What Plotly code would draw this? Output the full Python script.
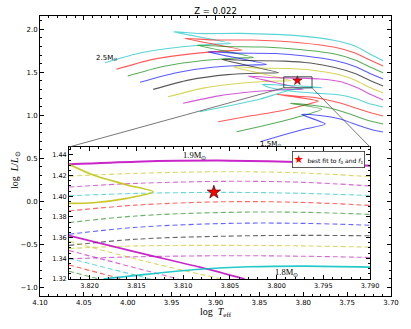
import plotly.graph_objects as go

# ---------------- main panel: evolutionary tracks, Z = 0.022 ----------------
masses = [2.5, 2.4, 2.3, 2.2, 2.1, 2.0, 1.9, 1.8, 1.7, 1.6, 1.5]
track_cols = ['c', 'r', 'g', 'b', 'k', 'y', 'm', 'c', 'r', 'g', 'b']

m25_x = [4.026, 3.986, 3.940, 3.901, 3.883, 3.948, 3.918, 3.872, 3.804, 3.764, 3.741, 3.724, 3.709]
m25_y = [1.612, 1.724, 1.794, 1.829, 1.837, 1.972, 1.951, 1.953, 1.924, 1.870, 1.806, 1.713, 1.635]
m24_x = [4.013, 3.974, 3.928, 3.888, 3.870, 3.935, 3.904, 3.858, 3.804, 3.764, 3.741, 3.724, 3.709]
m24_y = [1.535, 1.645, 1.715, 1.750, 1.759, 1.895, 1.876, 1.876, 1.844, 1.791, 1.724, 1.643, 1.573]
m23_x = [4.000, 3.960, 3.914, 3.874, 3.857, 3.921, 3.890, 3.845, 3.804, 3.764, 3.741, 3.724, 3.709]
m23_y = [1.457, 1.567, 1.637, 1.666, 1.674, 1.817, 1.800, 1.794, 1.765, 1.713, 1.643, 1.562, 1.495]
m22_x = [3.986, 3.946, 3.901, 3.861, 3.842, 3.909, 3.878, 3.832, 3.798, 3.764, 3.741, 3.724, 3.709]
m22_y = [1.384, 1.492, 1.562, 1.585, 1.593, 1.740, 1.724, 1.719, 1.690, 1.637, 1.567, 1.486, 1.422]
m21_x = [3.971, 3.931, 3.886, 3.846, 3.828, 3.893, 3.863, 3.821, 3.792, 3.764, 3.741, 3.724, 3.709]
m21_y = [1.302, 1.410, 1.474, 1.492, 1.495, 1.651, 1.637, 1.631, 1.608, 1.556, 1.486, 1.405, 1.341]
m20_x = [3.954, 3.914, 3.869, 3.831, 3.8135, 3.880, 3.852, 3.815, 3.787, 3.760, 3.740, 3.724, 3.709]
m20_y = [1.216, 1.317, 1.376, 1.399, 1.403, 1.565, 1.550, 1.544, 1.521, 1.474, 1.405, 1.323, 1.259]
m19_x = [3.937, 3.898, 3.855, 3.817, 3.800, 3.863, 3.838, 3.807, 3.781, 3.758, 3.739, 3.723, 3.709]
m19_y = [1.140, 1.224, 1.277, 1.300, 1.303, 1.457, 1.440, 1.433, 1.423, 1.393, 1.323, 1.242, 1.178]
m18_x = [3.918, 3.883, 3.849, 3.823, 3.809, 3.790, 3.779, 3.804, 3.827, 3.847,
         3.836, 3.815, 3.787, 3.758, 3.739, 3.723, 3.709]
m18_y = [1.042, 1.114, 1.190, 1.271, 1.306, 1.323, 1.323, 1.341, 1.352, 1.360,
         1.317, 1.283, 1.259, 1.236, 1.190, 1.131, 1.097]
m17_x = [3.897, 3.861, 3.823, 3.798, 3.783, 3.830, 3.809, 3.787, 3.758, 3.735, 3.718, 3.709]
m17_y = [0.926, 0.992, 1.056, 1.120, 1.166, 1.244, 1.224, 1.207, 1.143, 1.067, 1.015, 0.992]
m16_x = [3.876, 3.849, 3.823, 3.798, 3.779, 3.815, 3.792, 3.770, 3.747, 3.726, 3.709]
m16_y = [0.809, 0.870, 0.934, 1.003, 1.073, 1.140, 1.120, 1.085, 1.015, 0.940, 0.899]
m15_x = [3.849, 3.823, 3.798, 3.775, 3.802, 3.781, 3.758, 3.735, 3.718, 3.709]
m15_y = [0.693, 0.771, 0.841, 0.899, 1.012, 0.998, 0.957, 0.876, 0.823, 0.806]

tracks_x = [m25_x, m24_x, m23_x, m22_x, m21_x, m20_x, m19_x, m18_x, m17_x, m16_x, m15_x]
tracks_y = [m25_y, m24_y, m23_y, m22_y, m21_y, m20_y, m19_y, m18_y, m17_y, m16_y, m15_y]

# best-fit model (f0 and f1)
best_x = [3.8067]
best_y = [1.4039]

# ---------------- inset: zoom around the best fit ----------------
# solid tracks
in_m19_top_x = [3.8222, 3.815, 3.805, 3.797, 3.790]
in_m19_top_y = [1.431, 1.4335, 1.4345, 1.433, 1.4295]
in_m20_hook_x = [3.8222, 3.8196, 3.8160, 3.8132, 3.8160, 3.8196, 3.8222]
in_m20_hook_y = [1.431, 1.4206, 1.411, 1.4043, 1.398, 1.3938, 1.3932]
in_m19_leg_x = [3.8222, 3.8150, 3.8082, 3.8034]
in_m19_leg_y = [1.362, 1.346, 1.3315, 1.320]
in_m18_x = [3.8185, 3.8140, 3.8082, 3.8030, 3.7970, 3.7900]
in_m18_y = [1.320, 1.3245, 1.3294, 1.3318, 1.3325, 1.3315]

# dashed (finer mass grid)
dash_x = [3.8222, 3.815, 3.805, 3.797, 3.790]
dash_cols = ['y', 'm', 'c', 'r', 'g', 'b', 'k', 'y', 'm']
dash_y = [
    [1.4195, 1.4222, 1.4238, 1.4225, 1.4190],
    [1.4090, 1.4125, 1.4145, 1.4135, 1.4100],
    [1.4005, 1.4028, 1.4038, 1.4028, 1.4008],
    [1.3858, 1.3915, 1.3948, 1.3940, 1.3912],
    [1.3745, 1.3810, 1.3845, 1.3845, 1.3825],
    [1.3633, 1.3700, 1.3738, 1.3738, 1.3720],
    [1.3525, 1.3585, 1.3615, 1.3622, 1.3618],
    [1.3495, 1.3520, 1.3525, 1.3520, 1.3508],
    [1.3395, 1.3415, 1.3425, 1.3420, 1.3408],
]
# dashed hook legs running off the bottom edge
leg_cols = ['y', 'm', 'c', 'r', 'g']
leg_x = [[3.8222, 3.8146, 3.8059], [3.8222, 3.8105], [3.8222, 3.8135], [3.8222, 3.8165], [3.8222, 3.8190]]
leg_y = [[1.3565, 1.3383, 1.320], [1.3475, 1.320], [1.3400, 1.320], [1.3335, 1.320], [1.3275, 1.320]]

# axis ranges
main_xr = [4.10, 3.70]
main_yr = [-1.10, 2.155]
ins_xr = [3.8222, 3.790]
ins_yr = [1.320, 1.4477]
main_dx = [40 / 411, 391 / 411]
main_dy = [33 / 329, 313 / 329]
ins_dx = [69 / 411, 370 / 411]
ins_dy = [50 / 329, 182 / 329]

RGB = {'c': (0, 191, 191), 'r': (255, 0, 0), 'g': (0, 128, 0), 'b': (0, 0, 255),
       'k': (0, 0, 0), 'y': (191, 191, 0), 'm': (191, 0, 191)}


def col(c, a):
    r, g, b = RGB[c]
    return f'rgba({r},{g},{b},{a})'


fig = go.Figure()

for tx, ty, c, m in zip(tracks_x, tracks_y, track_cols, masses):
    fig.add_trace(go.Scatter(x=tx, y=ty, mode='lines', name=f'{m}',
                             line=dict(color=col(c, 0.65), width=1.1, shape='spline', smoothing=0.6),
                             xaxis='x', yaxis='y', showlegend=False, hoverinfo='skip'))

fig.add_trace(go.Scatter(x=best_x, y=best_y, mode='markers', showlegend=False,
                         marker=dict(symbol='star', size=7, color='red', line=dict(color='#400', width=0.5)),
                         xaxis='x', yaxis='y'))

# inset traces
for ys, c in zip(dash_y, dash_cols):
    fig.add_trace(go.Scatter(x=dash_x, y=ys, mode='lines', showlegend=False,
                             line=dict(color=col(c, 0.6), width=1.1, dash='5px,3px', shape='spline'),
                             xaxis='x2', yaxis='y2'))
for xs, ys, c in zip(leg_x, leg_y, leg_cols):
    fig.add_trace(go.Scatter(x=xs, y=ys, mode='lines', showlegend=False,
                             line=dict(color=col(c, 0.6), width=1.1, dash='5px,3px', shape='spline'),
                             xaxis='x2', yaxis='y2'))

solid = [(in_m19_top_x, in_m19_top_y, 'm', 2.0), (in_m20_hook_x, in_m20_hook_y, 'y', 1.6),
         (in_m19_leg_x, in_m19_leg_y, 'm', 1.6), (in_m18_x, in_m18_y, 'c', 1.6)]
for xs, ys, c, w in solid:
    fig.add_trace(go.Scatter(x=xs, y=ys, mode='lines', showlegend=False,
                             line=dict(color=col(c, 0.85), width=w, shape='spline', smoothing=0.8),
                             xaxis='x2', yaxis='y2'))

fig.add_trace(go.Scatter(x=best_x, y=best_y, mode='markers', showlegend=False,
                         marker=dict(symbol='star', size=10, color='red', line=dict(color='#400', width=0.7)),
                         xaxis='x2', yaxis='y2'))

tickfont = dict(family='DejaVu Sans', size=7, color='black')
axis_common = dict(showline=True, linecolor='black', linewidth=1, mirror='ticks', ticks='inside',
                   ticklen=4, tickcolor='black', showgrid=False, zeroline=False, automargin=False)

fig.update_layout(
    template='none',
    width=411, height=329, autosize=False,
    margin=dict(l=0, r=0, t=0, b=0, autoexpand=False),
    paper_bgcolor='white', plot_bgcolor='white',
    xaxis=dict(domain=main_dx, range=main_xr, dtick=0.05, tickformat='.2f', tickfont=tickfont,
               minor=dict(ticks='inside', ticklen=2, dtick=0.01, tickcolor='black'), **axis_common),
    yaxis=dict(domain=main_dy, range=main_yr, dtick=0.5, tickformat='.1f', tickfont=tickfont,
               minor=dict(ticks='inside', ticklen=2, dtick=0.1, tickcolor='black'), **axis_common),
    xaxis2=dict(domain=ins_dx, range=ins_xr, anchor='y2', dtick=0.005, tick0=3.79, tickformat='.3f',
                tickfont=dict(family='DejaVu Sans', size=6.5, color='black'),
                minor=dict(ticks='inside', ticklen=2, dtick=0.001, tickcolor='black'), **axis_common),
    yaxis2=dict(domain=ins_dy, range=ins_yr, anchor='x2', dtick=0.02, tickformat='.2f',
                tickfont=dict(family='DejaVu Sans', size=6.5, color='black'),
                minor=dict(ticks='inside', ticklen=2, dtick=0.005, tickcolor='black'), **axis_common),
    title=dict(text='Z = 0.022', x=215.5 / 411, xanchor='center', y=318 / 329, yanchor='middle',
               font=dict(family='DejaVu Sans', size=8.5, color='black')),
)


def ins_to_main(px, py):
    # paper position of an inset corner -> main data coordinates
    fx = (px - main_dx[0]) / (main_dx[1] - main_dx[0])
    fy = (py - main_dy[0]) / (main_dy[1] - main_dy[0])
    return main_xr[0] + fx * (main_xr[1] - main_xr[0]), main_yr[0] + fy * (main_yr[1] - main_yr[0])


# zoom box and connector lines
fig.add_shape(type='rect', xref='x', yref='y', x0=ins_xr[0], x1=ins_xr[1], y0=ins_yr[0], y1=ins_yr[1],
              line=dict(color='#444', width=1))
cl = ins_to_main(ins_dx[0], ins_dy[1])
cr = ins_to_main(ins_dx[1], ins_dy[1])
fig.add_shape(type='line', xref='x', yref='y', x0=ins_xr[0], y0=ins_yr[0], x1=cl[0], y1=cl[1],
              line=dict(color='#555', width=0.8))
fig.add_shape(type='line', xref='x', yref='y', x0=ins_xr[1], y0=ins_yr[0], x1=cr[0], y1=cr[1],
              line=dict(color='#555', width=0.8))

sans7 = dict(family='DejaVu Sans', size=7, color='black')
serif = dict(family='Liberation Serif', size=8.5, color='black')
fig.add_annotation(x=4.024, y=1.663, xref='x', yref='y', text='2.5M<sub>⊙</sub>', showarrow=False, font=sans7)
fig.add_annotation(x=3.837, y=0.672, xref='x', yref='y', text='1.5M<sub>⊙</sub>', showarrow=False, font=sans7)
fig.add_annotation(x=3.8088, y=1.4395, xref='x2', yref='y2', text='1.9M<sub>⊙</sub>', showarrow=False, font=serif)
fig.add_annotation(x=3.7989, y=1.3267, xref='x2', yref='y2', text='1.8M<sub>⊙</sub>', showarrow=False, font=serif)

# legend box
fig.add_annotation(x=292 / 411, y=178 / 329, xref='paper', yref='paper', xanchor='left', yanchor='top',
                   text='<span style="font-size:11px;color:red">★</span>  best fit to <i>f</i><sub>0</sub> and <i>f</i><sub>1</sub>',
                   showarrow=False, font=dict(family='DejaVu Sans', size=6, color='black'),
                   bgcolor='white', bordercolor='#333', borderwidth=0.8, borderpad=1)

# axis titles
fig.add_annotation(x=215.5 / 411, y=17 / 329, xref='paper', yref='paper', showarrow=False,
                   xanchor='center', yanchor='middle',
                   text='log  <i>T</i><sub>eff</sub>', font=dict(family='Liberation Serif', size=10, color='black'))
fig.add_annotation(x=15 / 411, y=159 / 329, xref='paper', yref='paper', showarrow=False, textangle=-90,
                   xanchor='center', yanchor='middle',
                   text='log  <i>L</i>/<i>L</i><sub>⊙</sub>', font=dict(family='Liberation Serif', size=10, color='black'))

# page body has a default 8px margin; drop it so the figure sits at the window corner
fig.write_html("out.html", config={'displayModeBar': False},
               post_script="document.body.style.margin='0px';")
